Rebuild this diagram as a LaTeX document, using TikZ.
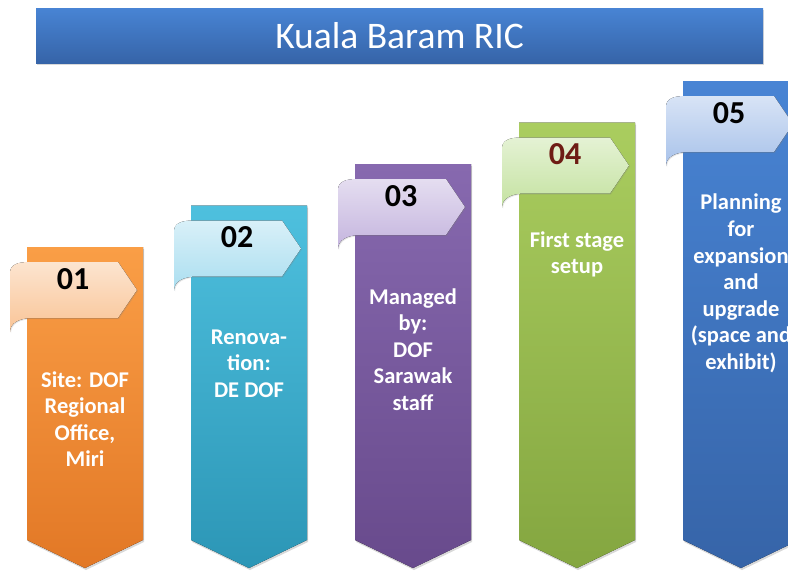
\documentclass[tikz,border=0pt]{standalone}
\usepackage{fontspec}
\setmainfont{Carlito}
\usetikzlibrary{shadows}

\definecolor{orangeTop}{RGB}{250,158,70}
\definecolor{orangeBot}{RGB}{226,120,38}
\definecolor{orangeTab}{RGB}{249,196,150}
\definecolor{cyanTop}{RGB}{78,192,222}
\definecolor{cyanBot}{RGB}{44,150,182}
\definecolor{cyanTab}{RGB}{170,222,240}
\definecolor{purpleTop}{RGB}{135,105,175}
\definecolor{purpleBot}{RGB}{104,74,140}
\definecolor{purpleTab}{RGB}{196,180,222}
\definecolor{greenTop}{RGB}{170,205,95}
\definecolor{greenBot}{RGB}{132,166,64}
\definecolor{greenTab}{RGB}{196,226,160}
\definecolor{blueTop}{RGB}{72,132,212}
\definecolor{blueBot}{RGB}{54,100,168}
\definecolor{blueTab}{RGB}{168,194,234}
\definecolor{numRed}{RGB}{110,28,20}

\begin{document}
\begin{tikzpicture}[
    x=1pt, y=-1pt,
    titlebar/.style={rectangle, top color=blueTop, bottom color=blueBot, minimum width=727pt, minimum height=55pt, text=white, font=\fontsize{37.5}{40}\selectfont, drop shadow={shadow xshift=1pt, shadow yshift=-2pt, opacity=0.3}},
    column/.style={drop shadow={shadow xshift=1pt, shadow yshift=-2pt, opacity=0.3}},
    tab/.style={drop shadow={shadow xshift=1pt, shadow yshift=-1pt, opacity=0.2}},
    num/.style={font=\fontsize{32}{36}\selectfont\bfseries, inner sep=0pt},
    body/.style={text=white, align=center, inner sep=0pt, font=\fontsize{22.5}{26.6}\selectfont\bfseries}
]
\useasboundingbox (0,0) rectangle (788,571);
\clip (0,0) rectangle (788,571);

% Title
\node[titlebar] (title) at (399.5,35.5) {Kuala Baram RIC};

% Columns with their tabs
\foreach \i/\clr/\numclr in {1/orange/black, 2/cyan/black, 3/purple/black, 4/green/numRed, 5/blue/black} {
  \pgfmathsetmacro\xl{27+164*(\i-1)}
  \pgfmathsetmacro\yt{247-41.5*(\i-1)}
  \pgfmathsetmacro\xc{\xl+58}
  \fill[column, top color=\clr Top, bottom color=\clr Bot] (\xl,\yt) -- (\xl+116,\yt) -- (\xl+116,540) -- (\xc,568) -- (\xl,540) -- cycle;
  \fill[tab, top color=\clr Tab!45!white, bottom color=\clr Tab] (\xl-17,\yt+26) .. controls (\xl-17,\yt+18) and (\xl-10,\yt+15) .. (\xl+2,\yt+15) -- (\xl+91,\yt+15) -- (\xl+110,\yt+43) -- (\xl+91,\yt+71) -- (\xl+6,\yt+71) .. controls (\xl-8,\yt+71) and (\xl-17,\yt+76) .. (\xl-17,\yt+85) -- cycle;
  \node[num, text=\numclr] (num\i) at (\xl+46,\yt+32) {0\i};
}

% Texts
\node[body] (site) at (85,419) {Site: DOF\\Regional\\Office,\\Miri};
\node[body] (renov) at (249,363.5) {Renova-\\tion:\\DE DOF};
\node[body] (manage) at (413,349.5) {Managed\\by:\\DOF\\Sarawak\\staff};
\node[body] (setup) at (577,254.5) {First stage\\setup};
\node[body] (plan) at (741,283.5) {Planning\\for\\expansion\\and\\upgrade\\(space and\\exhibit)};

\end{tikzpicture}
\end{document}
